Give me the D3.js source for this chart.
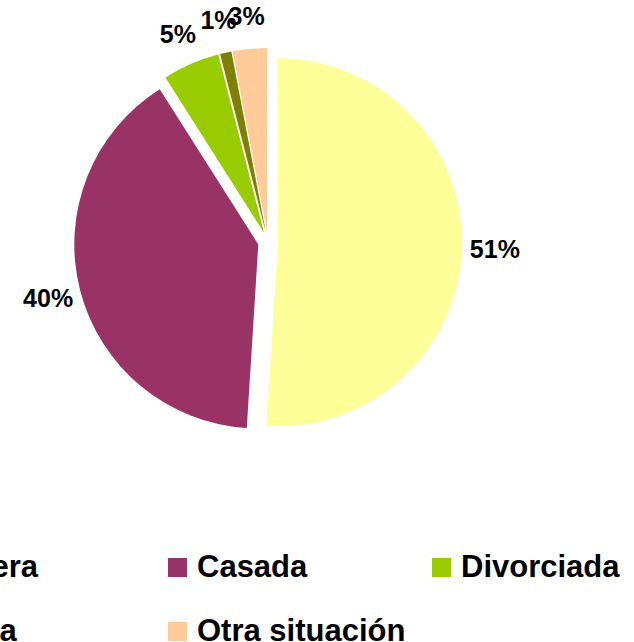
<!DOCTYPE html>
<html><head><meta charset="utf-8">
<script src="https://cdn.jsdelivr.net/npm/d3@7"></script>
<style>body{margin:0;background:#fff;} svg{display:block;}</style>
</head><body>
<script>
const categories = ["Soltera", "Casada", "Divorciada", "Viuda", "Otra situación"];
const values = [51, 40, 5, 1, 3];
const labels = ["51%", "40%", "5%", "1%", "3%"];
const palette = ["#FFFF99", "#993366", "#99CC00", "#808000", "#FFCC99"];

const W = 634, H = 642;
const cx = 268, cy = 242, R = 184, explode = 10, labelR = 227;

const svg = d3.select("body").append("svg").attr("width", W).attr("height", H);
const color = d3.scaleOrdinal().domain(categories).range(palette);
const data = categories.map((c, i) => ({cat: c, value: values[i], label: labels[i]}));
const pie = d3.pie().value(d => d.value).sort(null);
const arcs = pie(data);
const arc = d3.arc().innerRadius(0).outerRadius(R);

const g = svg.append("g").attr("transform", `translate(${cx},${cy})`);
g.selectAll("path").data(arcs).enter().append("path")
  .attr("d", arc)
  .attr("fill", d => color(d.data.cat))
  .attr("transform", d => {
    const a = (d.startAngle + d.endAngle) / 2;
    return `translate(${explode * Math.sin(a)},${-explode * Math.cos(a)})`;
  });

g.selectAll("text.lbl").data(arcs).enter().append("text")
  .attr("class", "lbl")
  .attr("x", d => labelR * Math.sin((d.startAngle + d.endAngle) / 2))
  .attr("y", d => -labelR * Math.cos((d.startAngle + d.endAngle) / 2))
  .attr("text-anchor", "middle")
  .attr("dy", "0.36em")
  .style("font-family", "'Liberation Sans', Arial, sans-serif")
  .style("font-weight", "bold")
  .style("font-size", "25px")
  .text(d => d.data.label);

// legend
const colX = d3.scalePoint().domain([0, 1, 2]).range([-96, 432]);
const rowY = d3.scalePoint().domain([0, 1]).range([558, 622]);
const leg = svg.append("g");
const items = leg.selectAll("g").data(data).enter().append("g")
  .attr("transform", (d, i) => `translate(${colX(i % 3)},${rowY(Math.floor(i / 3))})`);
items.append("rect").attr("width", 19).attr("height", 19)
  .attr("fill", d => color(d.cat));
items.append("text").attr("x", 29).attr("y", 19)
  .style("font-family", "'Liberation Sans', Arial, sans-serif")
  .style("font-weight", "bold")
  .style("font-size", "31px")
  .text(d => d.cat);
</script>
</body></html>
